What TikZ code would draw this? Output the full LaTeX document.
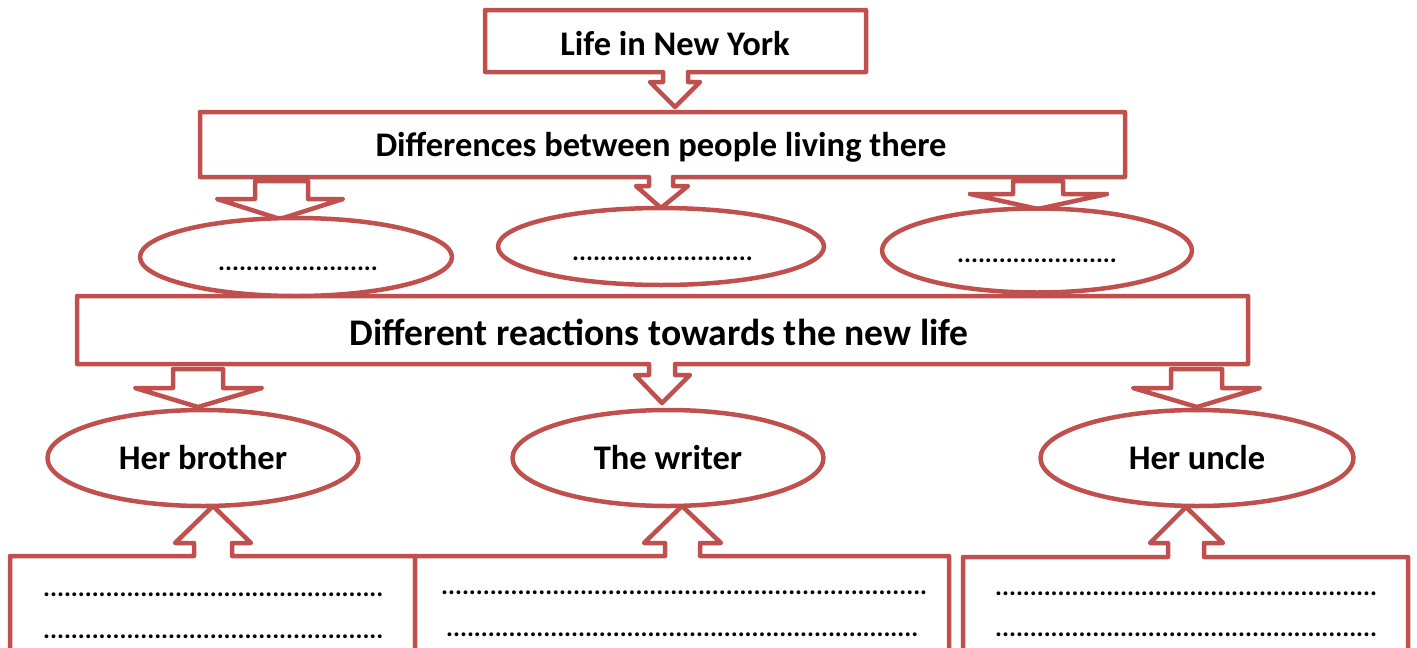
\documentclass[tikz,border=0pt]{standalone}
\usepackage{fontspec}
\setmainfont{Carlito}
\usetikzlibrary{shapes.geometric}
\definecolor{acc}{HTML}{C0504D}
\newcommand{\dotrow}[1]{\foreach \i in {1,...,#1}{.}}
\tikzset{
  outl/.style={draw=acc,line width=4.5pt,fill=white,line join=round},
  ell/.style={outl,ellipse,inner sep=0pt,font=\bfseries\fontsize{34.5}{38}\selectfont},
  lbl/.style={font=\bfseries\fontsize{34.5}{38}\selectfont,inner sep=0pt},
  biglbl/.style={font=\bfseries\fontsize{37.6}{41}\selectfont,inner sep=0pt},
  dotsty/.style={font=\bfseries\fontsize{26}{30}\selectfont,anchor=base west,inner sep=0pt}
}
\begin{document}
\begin{tikzpicture}[x=1pt,y=-1pt]
\useasboundingbox (0,0) rectangle (1417,648);
\clip (0,0) rectangle (1417,648);
% box 1
\draw[outl] (485,10) -- (866,10) -- (866,72) -- (688,72) -- (688,82) -- (700,82) -- (675,107) -- (650,82) -- (663,82) -- (663,72) -- (485,72) -- cycle;
\node[lbl] (t1) at (675,44) {Life in New York};
% box 2
\draw[outl] (200,112) -- (1125,112) -- (1125,177) -- (673,177) -- (673,186) -- (688,186) -- (661,208) -- (636,186) -- (649,186) -- (649,177) -- (200,177) -- cycle;
\node[lbl] (t2) at (661,147) {Differences between people living there};
% wide arrows from box 2
\draw[outl] (255,181) -- (255,199) -- (217,199) -- (280,219) -- (343,199) -- (308,199) -- (308,181) -- cycle;
\draw[outl] (1013,181) -- (1013,194) -- (970,194) -- (1038,209) -- (1107,194) -- (1063,194) -- (1063,181) -- cycle;
% box 3
\draw[outl] (77,296) -- (1248,296) -- (1248,364) -- (675,364) -- (675,375) -- (690,375) -- (662,403) -- (635,375) -- (649,375) -- (649,364) -- (77,364) -- cycle;
\node[biglbl] (t3) at (659,332) {Different reactions towards the new life};
% wide arrows from box 3
\draw[outl] (173,369) -- (173,388) -- (135,388) -- (198,407) -- (262,388) -- (223,388) -- (223,369) -- cycle;
\draw[outl] (1171,369) -- (1171,388) -- (1133,388) -- (1197,407) -- (1260,388) -- (1222,388) -- (1222,369) -- cycle;
% ellipses row 1
\node[ell,minimum width=312pt,minimum height=78pt] (e1) at (296,257) {};
\node[ell,minimum width=326pt,minimum height=77pt] (e2) at (661,246.5) {};
\node[ell,minimum width=310pt,minimum height=84pt] (e3) at (1037,250.5) {};
\node[dotsty] (d1) at (218,270) {\dotrow{23}};
\node[dotsty] (d2) at (572,260) {\dotrow{26}};
\node[dotsty] (d3) at (957,262) {\dotrow{23}};
% bottom boxes
\draw[outl] (10,700) -- (10,556) -- (194,556) -- (194,543) -- (175,543) -- (213,506) -- (251,543) -- (232,543) -- (232,556) -- (415,556) -- (415,700) -- cycle;
\draw[outl] (415,700) -- (415,556) -- (665,556) -- (665,543) -- (644,543) -- (682,506) -- (721,543) -- (700,543) -- (700,556) -- (949,556) -- (949,700) -- cycle;
\draw[outl] (963,700) -- (963,557) -- (1168,557) -- (1168,543) -- (1150,543) -- (1186,507) -- (1223,543) -- (1204,543) -- (1204,557) -- (1408,557) -- (1408,700) -- cycle;
\node[dotsty] (l1) at (43,596) {\dotrow{49}};
\node[dotsty] (l2) at (43,638) {\dotrow{49}};
\node[dotsty] (m1) at (441,594) {\dotrow{70}};
\node[dotsty] (m2) at (446,636) {\dotrow{68}};
\node[dotsty] (r1) at (995,595) {\dotrow{55}};
\node[dotsty] (r2) at (995,636) {\dotrow{55}};
% ellipses row 2
\node[ell,minimum width=311pt,minimum height=96pt] (e4) at (203,458) {Her brother};
\node[ell,minimum width=311pt,minimum height=96pt] (e5) at (668,458) {The writer};
\node[ell,minimum width=313pt,minimum height=96pt] (e6) at (1197,458) {Her uncle};
\end{tikzpicture}
\end{document}
